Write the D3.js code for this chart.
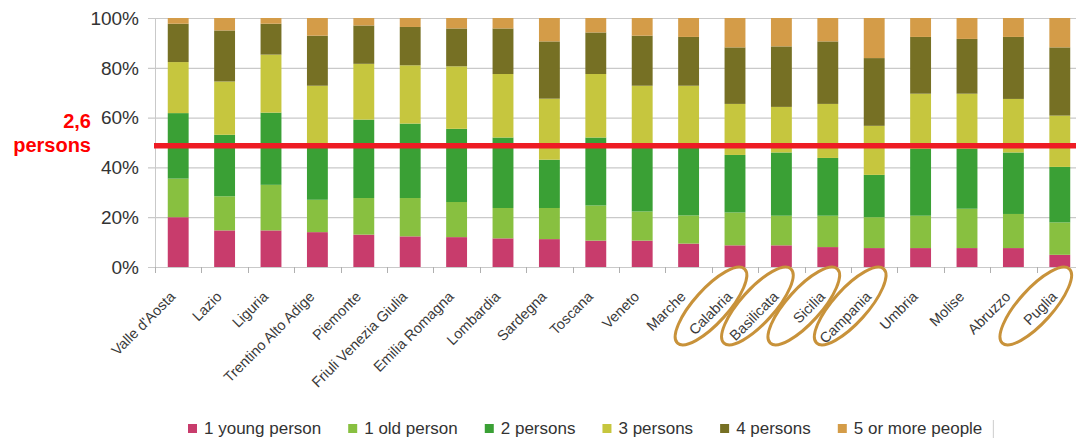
<!DOCTYPE html>
<html>
<head>
<meta charset="utf-8">
<script src="https://cdn.jsdelivr.net/npm/d3@7"></script>
<style>
  body { margin: 0; background: #fff; }
  svg { display: block; font-family: "Liberation Sans", Arial, sans-serif; }
</style>
</head>
<body>
<svg id="chart"></svg>
<script>
// regions, left to right
const regions = ["Valle d'Aosta", "Lazio", "Liguria", "Trentino Alto Adige", "Piemonte",
  "Friuli Venezia Giulia", "Emilia Romagna", "Lombardia", "Sardegna", "Toscana",
  "Veneto", "Marche", "Calabria", "Basilicata", "Sicilia", "Campania",
  "Umbria", "Molise", "Abruzzo", "Puglia"];

// share of households (%) by size
const youngPerson = [20, 14.7, 14.7, 14, 13, 12.3, 12, 11.5, 11.2, 10.6, 10.6, 9.4, 8.7, 8.7, 8, 7.6, 7.6, 7.6, 7.6, 4.9];
const oldPerson   = [15.5, 13.7, 18.3, 13, 14.7, 15.4, 14.1, 12.2, 12.5, 14.1, 11.7, 11.3, 13.2, 11.9, 12.6, 12.4, 13, 15.8, 13.7, 13];
const twoPersons  = [26.3, 24.7, 29, 21, 31.5, 29.9, 29.4, 28.3, 19.4, 27.3, 25.7, 27.3, 23.1, 25.4, 23.2, 17, 26.9, 24.1, 24.7, 22.3];
const threePersons = [20.5, 21.4, 23.3, 24.8, 22.4, 23.4, 25.1, 25.5, 24.5, 25.5, 24.8, 24.8, 20.5, 18.3, 21.7, 19.7, 22.1, 22.1, 21.5, 20.6];
const fourPersons = [15.4, 20.5, 12.4, 20.1, 15.4, 15.4, 15.2, 18.3, 23, 16.7, 20.1, 19.6, 22.7, 24.3, 25.1, 27.2, 22.8, 22, 24.9, 27.4];
const fivePlus    = [2.3, 5.0, 2.3, 7.1, 3.0, 3.6, 4.2, 4.2, 9.4, 5.8, 7.1, 7.6, 11.8, 11.4, 9.4, 16.1, 7.6, 8.4, 7.6, 11.8];

const seriesNames = ["1 young person", "1 old person", "2 persons", "3 persons", "4 persons", "5 or more people"];
const seriesColors = ["#c83c6c", "#88c040", "#3aa035", "#c6c63e", "#767024", "#d49c48"];
const yTicks = [0, 20, 40, 60, 80, 100];

// average household size marker (position on the % axis)
const avgLine = 48.7;
const avgLabel = ["2,6", "persons"];
const circled = ["Calabria", "Basilicata", "Sicilia", "Campania", "Puglia"];

const w = 1076, h = 439;
const svg = d3.select("#chart").attr("width", w).attr("height", h);

const x = d3.scaleBand()
  .domain(regions)
  .range([155, 155 + 46.4 * regions.length])
  .paddingInner(0.55)
  .paddingOuter(0.275);

const y = d3.scaleLinear().domain([0, 100]).range([267, 18]);

// table for the stack
const table = regions.map((r, i) => ({
  region: r,
  s0: youngPerson[i], s1: oldPerson[i], s2: twoPersons[i],
  s3: threePersons[i], s4: fourPersons[i], s5: fivePlus[i]
}));
const keys = ["s0", "s1", "s2", "s3", "s4", "s5"];
const stacked = d3.stack().keys(keys)(table);

// grid lines
svg.append("g")
  .selectAll("line")
  .data(yTicks)
  .join("line")
  .attr("x1", 148).attr("x2", w)
  .attr("y1", d => y(d) + 0.5).attr("y2", d => y(d) + 0.5)
  .attr("stroke", "#c9c9c9").attr("stroke-width", 1.2);

// y labels
svg.append("g")
  .selectAll("text")
  .data(yTicks)
  .join("text")
  .attr("x", 139)
  .attr("y", d => y(d))
  .attr("dy", "0.36em")
  .attr("text-anchor", "end")
  .attr("fill", "#333")
  .style("font-size", "19px")
  .text(d => d + "%");

// y axis line
svg.append("line")
  .attr("x1", 155.5).attr("x2", 155.5)
  .attr("y1", y(100)).attr("y2", y(0))
  .attr("stroke", "#c9c9c9");

// x ticks at band edges
const half = (x.step() - x.bandwidth()) / 2;
svg.append("g")
  .selectAll("line")
  .data(regions)
  .join("line")
  .attr("x1", d => Math.round(x(d) - half) + 0.5)
  .attr("x2", d => Math.round(x(d) - half) + 0.5)
  .attr("y1", y(0)).attr("y2", y(0) + 6)
  .attr("stroke", "#b0b0b0");

// bars
svg.append("g")
  .selectAll("g")
  .data(stacked)
  .join("g")
  .attr("fill", (d, i) => seriesColors[i])
  .selectAll("rect")
  .data(d => d)
  .join("rect")
  .attr("x", d => x(d.data.region))
  .attr("width", x.bandwidth())
  .attr("y", d => y(d[1]))
  .attr("height", d => y(d[0]) - y(d[1]));

// average line
svg.append("line")
  .attr("x1", 154).attr("x2", w)
  .attr("y1", y(avgLine)).attr("y2", y(avgLine))
  .attr("stroke", "#ee1c24").attr("stroke-width", 5.5);

svg.append("g")
  .selectAll("text")
  .data(avgLabel)
  .join("text")
  .attr("x", 91)
  .attr("y", (d, i) => 128 + i * 24)
  .attr("text-anchor", "end")
  .attr("fill", "#ff0000")
  .style("font-size", "20px")
  .style("font-weight", "bold")
  .text(d => d);

// region labels
svg.append("g")
  .selectAll("text")
  .data(regions)
  .join("text")
  .attr("transform", d => `translate(${x(d) + x.bandwidth() / 2 - 5.5},294) rotate(-45)`)
  .attr("dy", "0.35em")
  .attr("text-anchor", "end")
  .attr("fill", "#3a3a3a")
  .style("font-size", "14.5px")
  .text(d => d);

// hand drawn circles around the southern regions
svg.append("g")
  .selectAll("ellipse")
  .data(circled)
  .join("ellipse")
  .attr("transform", d => `translate(${x(d) + x.bandwidth() / 2 - 24},306) rotate(-48)`)
  .attr("rx", 50).attr("ry", 17)
  .attr("fill", "none")
  .attr("stroke", "#c8923a")
  .attr("stroke-width", 3);

// legend
const legend = svg.append("g").attr("transform", "translate(188,434)");
let lx = 0;
seriesNames.forEach((name, i) => {
  const item = legend.append("g").attr("transform", `translate(${lx},0)`);
  item.append("rect")
    .attr("x", 0).attr("y", -10)
    .attr("width", 9).attr("height", 9)
    .attr("fill", seriesColors[i]);
  const t = item.append("text")
    .attr("x", 16)
    .attr("fill", "#333")
    .style("font-size", "17px")
    .text(name);
  lx += 16 + t.node().getComputedTextLength() + 27;
});
legend.append("line")
  .attr("x1", lx - 16).attr("x2", lx - 16)
  .attr("y1", -14).attr("y2", 4)
  .attr("stroke", "#ccc");
</script>
</body>
</html>
